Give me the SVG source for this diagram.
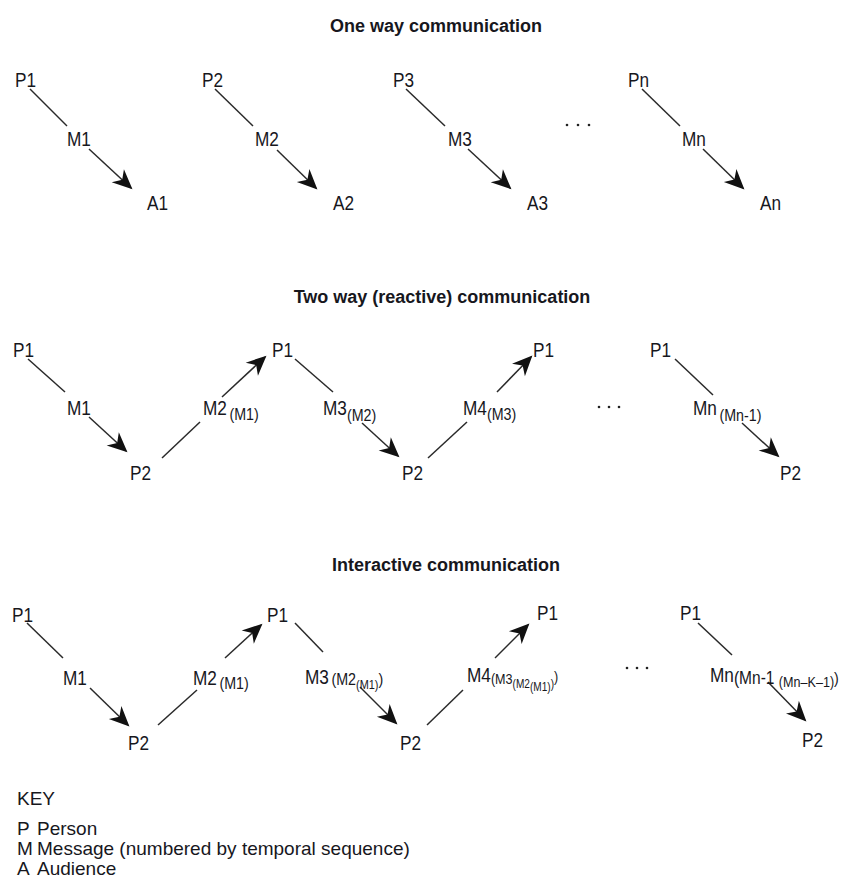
<svg xmlns="http://www.w3.org/2000/svg" width="846" height="886" viewBox="0 0 846 886">
<style>
text{font-family:"Liberation Sans",Arial,sans-serif;fill:#17171d}
.lb{font-size:20.5px}
.sb{font-size:17px}
.sn{font-size:18.5px}
.sm{font-size:15px}
.ss{font-size:13px}
.sx{font-size:12px}
.tt{font-size:18px;font-weight:bold;text-anchor:middle}
.ky{font-size:19px}
.c line{stroke:#2a2a2a;stroke-width:1.5}
.a{marker-end:url(#ah)}
.dot{fill:#222}
</style>
<defs>
<marker id="ah" markerUnits="userSpaceOnUse" markerWidth="26" markerHeight="22" viewBox="-21 -11 26 22" refX="0" refY="0" orient="auto">
<path d="M2,0 L-18,-9 L-12,0 L-18,9 Z" fill="#111"/>
</marker>
</defs>
<rect width="846" height="886" fill="#fff"/>

<text class="tt" x="436" y="32">One way communication</text>
<text class="tt" x="442" y="303">Two way (reactive) communication</text>
<text class="tt" x="446" y="571">Interactive communication</text>

<g class="c" id="connectors">
<line x1="30" y1="89" x2="67" y2="126"/>
<line class="a" x1="89" y1="149" x2="131" y2="188"/>
<line x1="215" y1="89" x2="253" y2="126"/>
<line class="a" x1="277" y1="150" x2="316" y2="188"/>
<line x1="406" y1="89" x2="445" y2="126"/>
<line class="a" x1="468" y1="149" x2="510" y2="188"/>
<line x1="642" y1="89" x2="680" y2="126"/>
<line class="a" x1="703" y1="149" x2="743" y2="188"/>

<line x1="28" y1="359" x2="65" y2="392"/>
<line class="a" x1="89" y1="417" x2="126" y2="451"/>
<line x1="162" y1="458" x2="200" y2="422"/>
<line class="a" x1="222" y1="397" x2="265" y2="357"/>
<line x1="295" y1="359" x2="333" y2="392"/>
<line class="a" x1="362" y1="423" x2="398" y2="456"/>
<line x1="428" y1="458" x2="467" y2="422"/>
<line class="a" x1="497" y1="392" x2="531" y2="357"/>
<line x1="675" y1="359" x2="713" y2="395"/>
<line class="a" x1="742" y1="423" x2="778" y2="456"/>

<line x1="27" y1="623" x2="63" y2="658"/>
<line class="a" x1="90" y1="688" x2="128" y2="725"/>
<line x1="158" y1="725" x2="197" y2="690"/>
<line class="a" x1="225" y1="658" x2="261" y2="625"/>
<line x1="295" y1="623" x2="323" y2="652"/>
<line class="a" x1="360" y1="687" x2="396" y2="723"/>
<line x1="427" y1="725" x2="463" y2="690"/>
<line class="a" x1="495" y1="658" x2="528" y2="625"/>
<line x1="698" y1="623" x2="732" y2="655"/>
<line class="a" x1="768" y1="682" x2="805" y2="720"/>
</g>

<!-- Row 1 -->
<g id="r1-p1"><text class="lb" transform="translate(15,87) scale(0.84,1)">P1</text></g>
<g id="r1-m1"><text class="lb" transform="translate(67,146) scale(0.84,1)">M1</text></g>
<g id="r1-a1"><text class="lb" transform="translate(147,210) scale(0.84,1)">A1</text></g>
<g id="r1-p2"><text class="lb" transform="translate(202,87) scale(0.84,1)">P2</text></g>
<g id="r1-m2"><text class="lb" transform="translate(255,146) scale(0.84,1)">M2</text></g>
<g id="r1-a2"><text class="lb" transform="translate(333,210) scale(0.84,1)">A2</text></g>
<g id="r1-p3"><text class="lb" transform="translate(393,87) scale(0.84,1)">P3</text></g>
<g id="r1-m3"><text class="lb" transform="translate(448,146) scale(0.84,1)">M3</text></g>
<g id="r1-a3"><text class="lb" transform="translate(527,210) scale(0.84,1)">A3</text></g>
<g id="r1-dots"><circle class="dot" cx="567" cy="125" r="1.3"/><circle class="dot" cx="578" cy="125" r="1.3"/><circle class="dot" cx="589" cy="125" r="1.3"/></g>
<g id="r1-pn"><text class="lb" transform="translate(628,87) scale(0.84,1)">Pn</text></g>
<g id="r1-mn"><text class="lb" transform="translate(682,146) scale(0.84,1)">Mn</text></g>
<g id="r1-an"><text class="lb" transform="translate(760,210) scale(0.84,1)">An</text></g>

<!-- Row 2 -->
<g id="r2-p1a"><text class="lb" transform="translate(13,357) scale(0.84,1)">P1</text></g>
<g id="r2-m1"><text class="lb" transform="translate(67,415) scale(0.84,1)">M1</text></g>
<g id="r2-p2a"><text class="lb" transform="translate(130,480) scale(0.84,1)">P2</text></g>
<g id="r2-m2"><text class="lb" transform="translate(203,415) scale(0.84,1)">M2<tspan class="sb" dx="3" dy="5">(M1)</tspan></text></g>
<g id="r2-p1b"><text class="lb" transform="translate(272,357) scale(0.84,1)">P1</text></g>
<g id="r2-m3"><text class="lb" transform="translate(323,415) scale(0.84,1)">M3<tspan class="sb" dy="6">(M2)</tspan></text></g>
<g id="r2-p2b"><text class="lb" transform="translate(402,480) scale(0.84,1)">P2</text></g>
<g id="r2-m4"><text class="lb" transform="translate(463,415) scale(0.84,1)">M4<tspan class="sb" dy="5">(M3)</tspan></text></g>
<g id="r2-p1c"><text class="lb" transform="translate(533,357) scale(0.84,1)">P1</text></g>
<g id="r2-dots"><circle class="dot" cx="599" cy="407" r="1.3"/><circle class="dot" cx="609" cy="407" r="1.3"/><circle class="dot" cx="619" cy="407" r="1.3"/></g>
<g id="r2-p1d"><text class="lb" transform="translate(650,357) scale(0.84,1)">P1</text></g>
<g id="r2-mn"><text class="lb" transform="translate(693,415) scale(0.84,1)">Mn<tspan class="sb" dx="3" dy="6">(Mn-1)</tspan></text></g>
<g id="r2-p2d"><text class="lb" transform="translate(780,480) scale(0.84,1)">P2</text></g>

<!-- Row 3 -->
<g id="r3-p1a"><text class="lb" transform="translate(12,622) scale(0.84,1)">P1</text></g>
<g id="r3-m1"><text class="lb" transform="translate(63,685) scale(0.84,1)">M1</text></g>
<g id="r3-p2a"><text class="lb" transform="translate(128,750) scale(0.84,1)">P2</text></g>
<g id="r3-m2"><text class="lb" transform="translate(193,685) scale(0.84,1)">M2<tspan class="sb" dx="3" dy="4">(M1)</tspan></text></g>
<g id="r3-p1b"><text class="lb" transform="translate(267,622) scale(0.84,1)">P1</text></g>
<g id="r3-m3"><text class="lb" transform="translate(305,684) scale(0.84,1)">M3<tspan class="sb" dx="3" dy="1">(M2</tspan><tspan class="ss" dy="4">(M1)</tspan><tspan class="sb" dy="-4">)</tspan></text></g>
<g id="r3-p2b"><text class="lb" transform="translate(400,750) scale(0.84,1)">P2</text></g>
<g id="r3-m4"><text class="lb" transform="translate(467,682) scale(0.84,1)">M4<tspan class="sm" dy="2">(M3</tspan><tspan class="sx" dy="4">(M2</tspan><tspan class="sx" dy="3">(M1)</tspan><tspan class="sx" dy="-3">)</tspan><tspan class="sm" dy="-6">)</tspan></text></g>
<g id="r3-p1c"><text class="lb" transform="translate(537,620) scale(0.84,1)">P1</text></g>
<g id="r3-dots"><circle class="dot" cx="627" cy="668" r="1.3"/><circle class="dot" cx="637" cy="668" r="1.3"/><circle class="dot" cx="647" cy="668" r="1.3"/></g>
<g id="r3-p1d"><text class="lb" transform="translate(680,620) scale(0.84,1)">P1</text></g>
<g id="r3-mn"><text class="lb" transform="translate(710,682) scale(0.84,1)">Mn<tspan class="sn" dy="2">(Mn-1 </tspan><tspan class="sm" dy="3">(Mn–K–1)</tspan><tspan class="sb" dy="-3">)</tspan></text></g>
<g id="r3-p2d"><text class="lb" transform="translate(802,747) scale(0.84,1)">P2</text></g>

<!-- Key -->
<g id="key">
<text class="ky" x="17" y="805">KEY</text>
<text class="ky" x="17" y="835">P</text><text class="ky" x="37" y="835">Person</text>
<text class="ky" x="17" y="855">M</text><text class="ky" x="37" y="855">Message (numbered by temporal sequence)</text>
<text class="ky" x="17" y="875">A</text><text class="ky" x="37" y="875">Audience</text>
</g>
</svg>
